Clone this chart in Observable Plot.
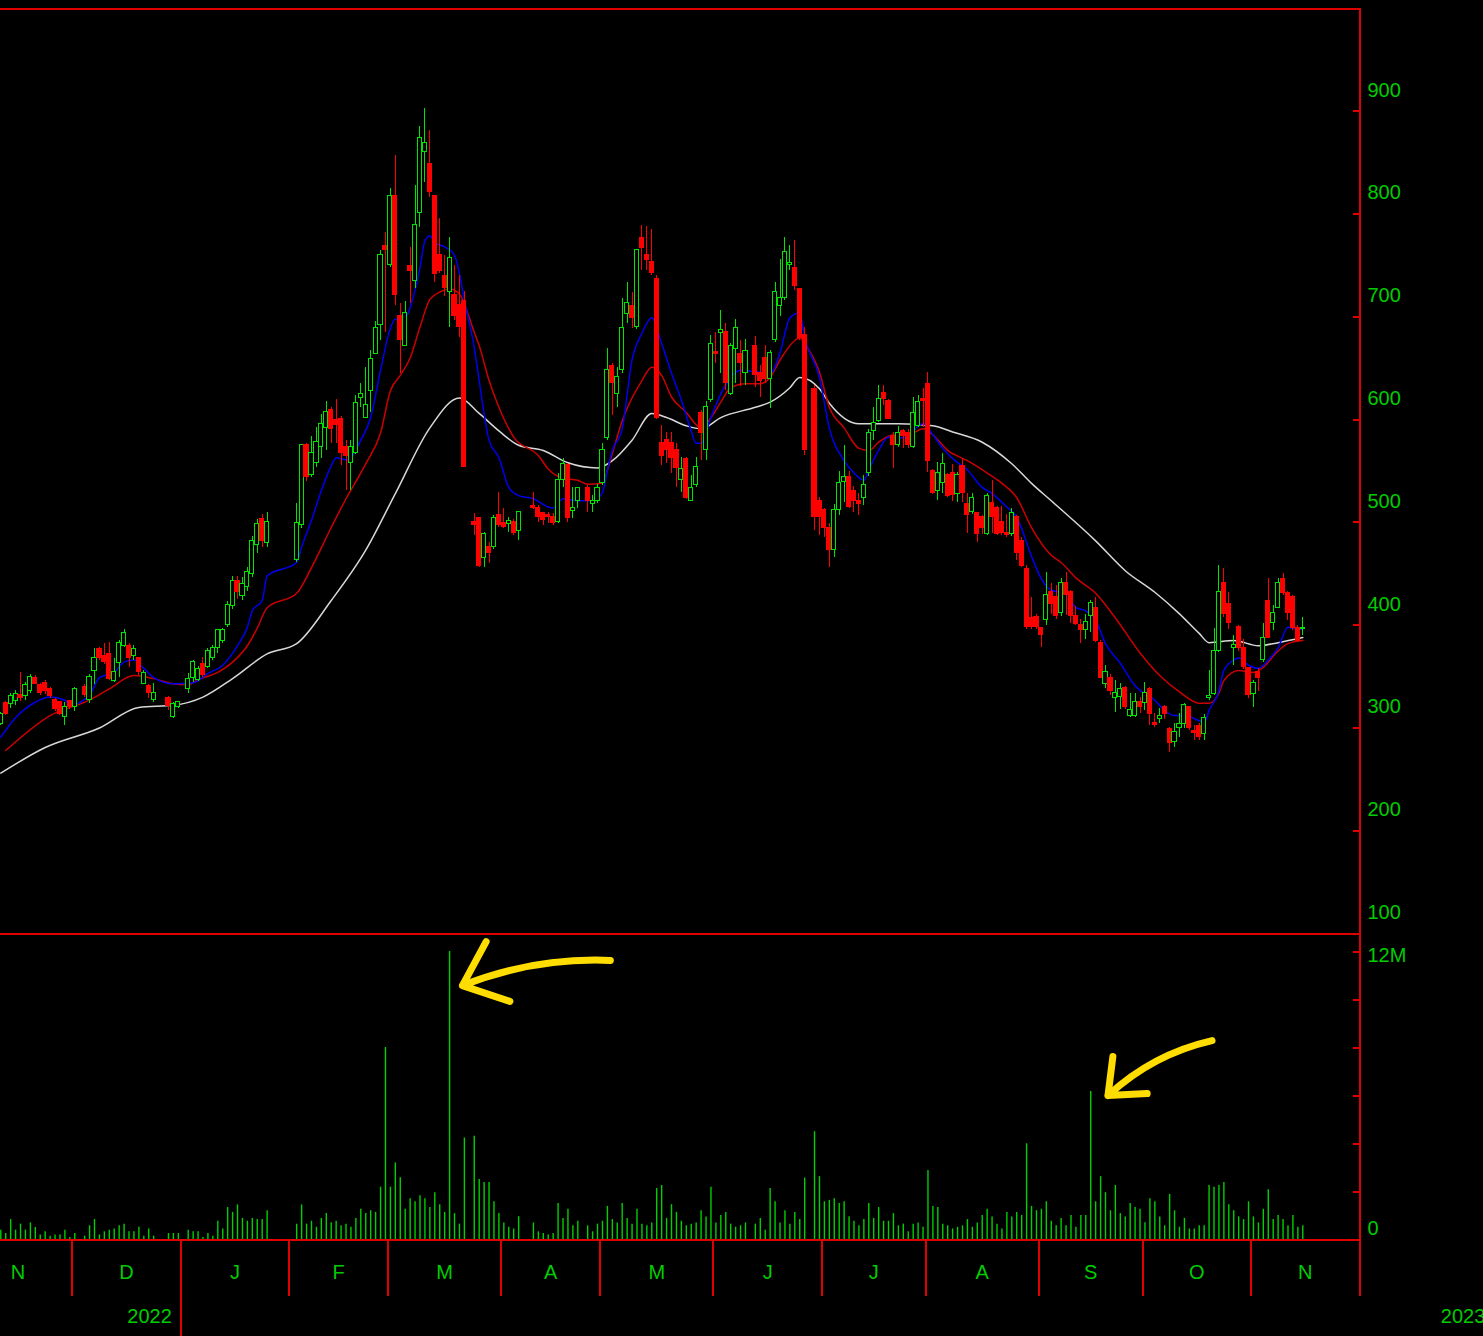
<!DOCTYPE html>
<html><head><meta charset="utf-8">
<script src="https://cdn.jsdelivr.net/npm/d3@7"></script>
<script src="https://cdn.jsdelivr.net/npm/@observablehq/plot@0.6"></script>
<style>
html,body{margin:0;padding:0;background:#000;}
#chart{position:relative;width:1483px;height:1336px;overflow:hidden;background:#000;}
#chart svg{position:absolute;left:0;}
</style></head><body><div id="chart"></div>
<script>
// ---- data: trading-day index counted in weekdays from 2021-12-01 (= day 0) ----
const firstDay = -15, lastDay = 249;
const missingDays = [1,17,18,22,40,41,42,43,44,80,91,92,103,137,149];

const open = [304,324,323,326,332,331,336,349,342,344,338,327,325,311,326,320,
340,327,355,377,370,372,346,363,380,380,370,368,343,341,327,
329,311,320,
338,349,347,362,359,368,378,385,400,419,443,428,437,450,478,503,480,
463,497,575,546,558,573,592,609,600,601,573,558,568,621,602,628,664,692,769,750,818,701,672,749,735,801,860,849,818,760,740,724,721,712,715,
500,504,465,476,476,507,499,498,500,492,
516,514,509,507,505,500,541,556,511,521,
533,518,521,538,582,652,625,648,703,711,690,777,760,753,737,577,580,577,570,541,562,521,536,606,570,619,666,684,685,625,669,664,645,
672,645,660,640,677,711,718,750,748,727,682,
630,521,512,495,473,512,539,544,531,521,524,548,589,599,626,618,584,575,589,587,
573,594,620,635,550,531,538,546,548,528,555,518,510,509,505,489,519,514,500,490,
489,505,482,455,407,408,397,405,432,427,412,441,432,409,400,395,409,417,383,343,
349,329,330,339,312,312,325,324,338,305,309,320,299,286,300,304,320,297,302,294,
329,333,375,441,421,378,398,378,358,333,354,366,424,402,417,445,431,427,397,396];

const high = [315,326,334,336,354,344,352,351,343,346,339,329,326,325,327,339,
342,352,377,378,382,383,368,385,396,382,380,369,356,342,343,
331,325,326,
353,366,360,369,377,380,396,397,423,447,447,446,456,486,503,508,510,
518,576,577,584,592,605,618,612,620,603,580,580,623,635,651,667,695,765,782,825,857,713,715,767,828,885,903,881,818,796,760,777,750,740,725,
509,505,490,480,507,529,514,505,503,510,
529,516,510,510,509,548,562,557,534,534,
536,526,537,577,669,655,651,718,733,724,766,789,788,785,740,594,587,587,577,563,563,546,563,609,618,682,685,706,694,674,697,677,678,
681,653,672,667,733,756,777,769,774,728,690,
633,524,514,499,517,550,575,550,535,528,546,590,612,633,633,620,587,593,590,590,
622,623,630,646,551,558,567,548,556,549,561,528,528,510,507,528,541,515,515,508,
514,507,485,458,427,410,398,451,441,439,445,451,434,418,406,410,424,427,385,361,
352,346,343,340,334,334,330,344,339,314,319,322,300,304,314,324,321,302,304,313,
356,397,458,455,432,390,400,386,359,346,358,402,445,419,445,450,433,429,400,407];

const low = [302,312,319,322,326,327,334,342,332,333,329,316,312,302,318,316,
330,324,342,366,362,346,344,349,378,359,366,351,342,329,325,
317,309,319,
334,344,345,349,358,366,372,382,398,415,425,424,433,446,470,476,476,
461,494,540,544,553,562,570,577,577,555,531,531,566,612,601,607,663,677,685,748,711,645,672,713,728,787,831,816,733,742,720,690,696,680,553,
487,456,456,460,474,495,494,490,487,482,
513,500,497,499,497,499,534,500,504,514,
510,510,518,536,580,604,612,645,694,689,688,745,745,740,600,555,557,548,534,529,522,520,534,560,560,617,655,645,628,623,635,632,633,
631,622,635,611,675,700,716,745,726,677,565,
492,487,485,456,466,507,519,514,510,507,516,545,580,597,614,600,552,573,572,572,
572,592,592,549,527,521,528,524,520,519,519,489,508,480,488,487,489,487,487,485,
486,463,456,396,396,396,378,400,410,406,408,409,402,400,382,386,393,383,348,338,
332,315,318,318,310,310,314,317,302,300,304,308,276,281,291,299,298,288,288,288,
327,332,373,407,396,361,374,357,329,320,335,364,387,395,416,429,405,395,383,390];

const close = [314,314,331,333,329,342,350,343,334,336,331,318,314,320,320,338,
332,350,368,368,364,348,354,383,392,368,377,354,353,334,334,
321,323,325,
348,364,357,352,375,378,395,395,420,443,432,440,452,482,498,482,500,
499,575,544,568,578,596,607,591,595,568,565,573,616,625,614,659,689,760,765,818,721,677,704,745,789,874,869,821,742,745,728,757,701,690,554,
497,458,489,470,504,497,496,501,490,510,
514,505,502,505,499,541,557,504,514,533,
521,521,533,570,648,636,641,689,713,699,765,767,755,743,602,565,570,563,553,552,524,533,554,587,612,674,664,687,636,672,689,655,667,
643,638,640,665,724,718,763,752,730,679,570,
505,505,495,473,512,538,544,515,521,518,536,587,597,620,620,601,575,587,584,575,
606,617,618,560,529,548,557,526,527,546,529,507,524,489,495,526,505,489,490,488,
509,470,458,398,398,398,390,429,421,409,441,429,409,401,395,403,422,385,349,354,
336,334,338,320,317,325,320,334,314,303,312,314,285,296,304,322,300,295,291,310,
331,375,432,411,402,381,378,359,332,344,349,388,388,412,441,431,412,397,385,397];

// volume in millions of shares
const volume = [0.39,0.25,0.83,0.39,0.64,0.39,0.69,0.5,0.19,0.32,0.14,0.19,0.19,0.39,0.08,0.25,
0.14,0.57,0.83,0.19,0.32,0.39,0.44,0.57,0.64,0.32,0.32,0.51,0.14,0.44,0.14,
0.25,0.25,0.25,
0.39,0.32,0.32,0.08,0.25,0.14,0.76,0.44,1.33,1.13,1.44,0.88,0.76,0.88,0.83,0.83,1.2,
0.64,1.44,0.64,0.76,0.51,0.88,1.08,0.7,0.76,0.57,0.64,0.51,0.88,1.26,1.08,1.2,1.13,2.18,8.0,2.18,3.19,2.57,1.26,1.7,1.57,1.82,1.7,1.33,1.95,1.45,1.13,12.0,1.08,0.64,4.23,
4.3,2.5,2.38,2.38,1.57,1.08,0.69,0.51,0.44,0.95,
0.69,0.32,0.25,0.19,0.25,1.5,0.88,1.26,0.57,0.76,
0.57,0.32,0.64,0.76,1.38,0.83,0.69,1.5,0.88,0.64,1.26,0.64,0.57,0.69,2.13,2.25,0.88,1.45,1.13,0.76,0.57,0.64,0.69,1.2,0.94,2.18,0.69,1.0,1.13,0.64,0.51,0.57,0.69,
0.64,0.88,0.39,2.13,1.57,0.69,1.2,0.64,1.13,0.83,2.56,
4.49,2.62,1.57,1.63,1.7,1.5,1.57,0.95,0.76,0.57,0.83,1.5,0.88,1.33,0.76,0.76,1.08,0.57,0.64,0.32,
0.64,0.69,0.51,2.87,1.38,1.33,0.64,0.57,0.44,0.51,0.57,0.83,0.51,0.69,1.0,1.26,0.94,0.64,0.44,1.13,
0.94,1.13,1.0,3.99,1.38,1.2,1.26,1.57,0.76,0.57,0.88,0.57,1.0,0.51,1.0,1.0,6.17,1.57,2.62,1.95,
1.2,2.25,1.08,0.94,1.5,1.33,1.26,0.7,1.7,1.57,0.94,0.57,1.88,1.2,0.51,0.88,0.44,0.44,0.57,0.57,
2.25,2.18,2.25,2.38,1.45,1.2,0.94,0.83,1.57,0.94,0.69,1.26,2.07,0.83,1.0,0.83,0.57,1.0,0.51,0.57];

// moving averages (blue = short, red = medium, white = long)
const blueDays = [-15,-12,-8,-5,-2,-1,3,5,8,10,12,14,16,20,24,27,30,33,35,36,38,39,45,46,48,50,52,53,55,56,58,60,62,64,65,66,67,69,70,71,72,73,75,77,78,79,81,82,84,86,88,90,93,96,97,99,102,105,107,108,109,111,113,115,117,119,121,123,125,126,127,129,131,133,135,139,141,143,145,147,148,151,153,156,158,160,161,163,165,167,169,171,172,174,176,178,181,184,186,189,191,194,196,198,201,203,205,207,209,212,215,219,221,223,225,228,229,230,232,233,235,236,238,240,242,244,246,247,249];
const blueValues = [291,310,325,330,327,322,332,349,354,364,366,358,349,343,344,353,361,380,398,414,424,448,461,476,502,531,555,563,561,563,580,602,648,689,698,695,698,726,748,774,779,772,768,760,742,716,670,638,580,563,534,526,523,515,514,523,521,521,529,551,570,591,658,684,699,674,645,619,589,577,577,602,625,641,648,646,645,665,699,704,680,641,592,560,548,541,551,570,583,582,583,594,596,585,572,562,551,534,528,515,505,467,445,434,431,417,414,405,382,363,341,327,317,312,312,307,305,317,336,356,366,368,361,358,366,378,398,397,396];

const redDays = [-14,-5,3,7,12,16,20,23,25,29,32,35,37,39,45,48,52,55,59,62,64,66,68,70,72,74,76,78,81,82,84,86,89,94,96,99,102,104,107,108,111,115,117,119,121,124,127,129,131,133,136,139,141,143,146,147,148,151,153,156,159,161,163,166,169,172,174,177,181,185,188,191,194,198,200,203,207,211,216,220,224,228,230,232,233,236,239,241,244,246,249];
const redValues = [278,312,327,338,351,348,343,342,347,354,364,380,397,417,431,456,495,523,557,587,628,643,660,690,717,724,727,722,685,672,638,612,583,565,552,543,541,537,538,551,599,638,651,643,622,607,592,602,617,631,635,635,641,658,677,680,674,646,612,592,572,570,578,585,585,591,585,570,560,548,538,524,495,468,461,446,431,407,373,351,335,324,324,334,346,356,354,359,375,382,385];

const whiteDays = [-15,-6,5,13,20,26,32,39,45,52,59,65,72,78,82,86,90,95,100,106,109,113,117,120,124,127,131,138,141,145,147,151,153,159,167,174,178,184,190,194,198,207,213,219,224,228,230,235,240,244,249];
const whiteValues = [256,281,300,320,322,330,348,372,382,424,473,528,592,621,606,589,575,570,558,553,560,580,606,602,594,591,602,612,617,631,641,630,616,596,596,594,588,578,557,538,521,482,453,432,411,392,383,385,380,383,388];

const priceTicks = [100,200,300,400,500,600,700,800,900];
const volumeTicks = [2,4,6,8,10,12];          // millions
const monthStarts = ["2021-11-01","2021-12-01","2022-01-01","2022-02-01","2022-03-01","2022-04-01","2022-05-01","2022-06-01","2022-07-01","2022-08-01","2022-09-01","2022-10-01","2022-11-01","2022-12-01"];
const monthLetters = ["N","D","J","F","M","A","M","J","J","A","S","O","N"];
const yearStarts = ["2022-01-01","2023-01-01"];
const yearNames = ["2022","2023"];
// hand-drawn highlight arrows (start -> tip, in day / million-share units)
const arrowFromDay = [108.6, 230.6], arrowFromVol = [11.63, 8.29];
const arrowToDay = [78.6, 209.5], arrowToVol = [10.58, 6.0];

// ---- helpers ----
const origin = Date.UTC(2021, 11, 1); // Wednesday, day 0
function dayIndex(s) {
  const d = new Date(s + "T00:00:00Z");
  const wd = d.getUTCDay();
  if (wd === 6) d.setUTCDate(d.getUTCDate() - 1);
  if (wd === 0) d.setUTCDate(d.getUTCDate() - 2);
  const n = Math.round((d - origin) / 864e5);
  const w = Math.floor(n / 7);
  let idx = w * 5;
  const rem = n - w * 7;
  for (let k = 0; k < rem; k++) { const x = (3 + k) % 7; if (x !== 0 && x !== 6) idx++; }
  return idx;
}
const days = d3.range(firstDay, lastDay + 1).filter(d => !missingDays.includes(d));
const candles = days.map((day, i) => ({day, open: open[i], high: high[i], low: low[i], close: close[i], volume: volume[i]}));
const seps = monthStarts.map(s => dayIndex(s) - 0.5);
const viewStart = -15.06, viewEnd = seps[seps.length - 1];
const monthLabelData = monthLetters.map((t, i) => ({x: (seps[i] + seps[i + 1]) / 2, t}));
const innerSeps = seps.filter(s => s > viewStart && s < viewEnd);
const yearSeps = yearStarts.map(s => dayIndex(s) - 0.5);
const toLine = (ds, vs) => ds.map((d, i) => ({day: d, value: vs[i]}));

const GREEN = "#00e400", RED = "#ff0000", FRAME = "#e00000", TXT = "#00cc00", VOL = "#00d000";
const FONT = "Liberation Sans, Arial, sans-serif";
const up = d => d.close >= d.open;
const tickLen = 6 / (1359 / (viewEnd - viewStart));
const frameStyle = {stroke: FRAME, strokeWidth: 2, shapeRendering: "crispEdges"};

const container = document.getElementById("chart");

const price = Plot.plot({
  width: 1483, height: 934,
  marginLeft: 0, marginRight: 124, marginTop: 8, marginBottom: 1,
  x: {domain: [viewStart, viewEnd], axis: null},
  y: {domain: [100, 1000], axis: null},
  color: {type: "identity"},
  style: {background: "#000", fontFamily: FONT, overflow: "visible"},
  marks: [
    Plot.ruleY([100, 1000], frameStyle),
    Plot.ruleX([viewEnd], frameStyle),
    Plot.ruleY(priceTicks.filter(t => t > 100), {x1: viewEnd - tickLen, x2: viewEnd, ...frameStyle}),
    Plot.text(priceTicks, {x: viewEnd, y: d => d, text: d => String(d), dx: 8, dy: -21, textAnchor: "start", fill: TXT, fontSize: 20, fontFamily: FONT}),
    Plot.line(toLine(whiteDays, whiteValues), {x: "day", y: "value", stroke: "#d8d8d8", strokeWidth: 1.5, curve: "monotone-x"}),
    Plot.line(toLine(redDays, redValues), {x: "day", y: "value", stroke: "#cc0000", strokeWidth: 1.5, curve: "monotone-x"}),
    Plot.line(toLine(blueDays, blueValues), {x: "day", y: "value", stroke: "#0000ee", strokeWidth: 1.5, curve: "monotone-x"}),
    Plot.ruleX(candles, {x: "day", y1: "low", y2: "high", stroke: d => up(d) ? GREEN : RED, strokeWidth: 1, shapeRendering: "crispEdges"}),
    Plot.rect(candles, {x1: d => d.day - 0.42, x2: d => d.day + 0.42, y1: "open", y2: "close",
      fill: d => up(d) ? "#000" : RED, stroke: d => up(d) ? GREEN : RED, strokeWidth: 1, shapeRendering: "crispEdges"})
  ]
});
price.style.top = "0px";
container.appendChild(price);

const txt = {textAnchor: "start", fill: TXT, fontSize: 20, fontFamily: FONT};
const vol = Plot.plot({
  width: 1483, height: 403,
  marginLeft: 0, marginRight: 124, marginTop: 0, marginBottom: 97,
  x: {domain: [viewStart, viewEnd], axis: null},
  y: {domain: [0, 12.75], axis: null},
  style: {background: "transparent", fontFamily: FONT, overflow: "visible"},
  marks: [
    Plot.ruleX(candles, {x: "day", y1: 0, y2: "volume", stroke: VOL, strokeWidth: 1.4}),
    Plot.ruleY([0], frameStyle),
    Plot.ruleX([viewEnd], {...frameStyle, insetBottom: -57}),
    Plot.ruleX(innerSeps.filter(s => !yearSeps.includes(s)), {...frameStyle, insetTop: 306, insetBottom: -57}),
    Plot.ruleX(innerSeps.filter(s => yearSeps.includes(s)), {...frameStyle, insetTop: 306, insetBottom: -97}),
    Plot.ruleY(volumeTicks, {x1: viewEnd - tickLen, x2: viewEnd, ...frameStyle}),
    Plot.text(["12M"], {x: viewEnd, y: 12, text: d => d, dx: 8, dy: 4, ...txt}),
    Plot.text(["0"], {x: viewEnd, y: 0, text: d => d, dx: 8, dy: -11, ...txt}),
    Plot.text(monthLabelData, {x: "x", text: "t", frameAnchor: "bottom", dy: 39, fill: TXT, fontSize: 20, fontFamily: FONT}),
    Plot.text([{x: yearSeps[0], t: yearNames[0]}], {x: "x", text: "t", frameAnchor: "bottom", dy: 83, dx: -9, textAnchor: "end", fill: TXT, fontSize: 20, fontFamily: FONT}),
    Plot.text([{x: yearSeps[1], t: yearNames[1]}], {x: "x", text: "t", frameAnchor: "bottom", dy: 83, textAnchor: "middle", fill: TXT, fontSize: 20, fontFamily: FONT}),
    Plot.arrow([0], {x1: arrowFromDay[0], y1: arrowFromVol[0], x2: arrowToDay[0], y2: arrowToVol[0], bend: -12, stroke: "#ffdd00", strokeWidth: 7, headLength: 38, headAngle: 80, strokeLinecap: "round", strokeLinejoin: "round"}),
    Plot.arrow([1], {x1: arrowFromDay[1], y1: arrowFromVol[1], x2: arrowToDay[1], y2: arrowToVol[1], bend: -15, stroke: "#ffdd00", strokeWidth: 7, headLength: 32, headAngle: 80, strokeLinecap: "round", strokeLinejoin: "round"})
  ]
});
vol.style.top = "933px";
container.appendChild(vol);
</script></body></html>
